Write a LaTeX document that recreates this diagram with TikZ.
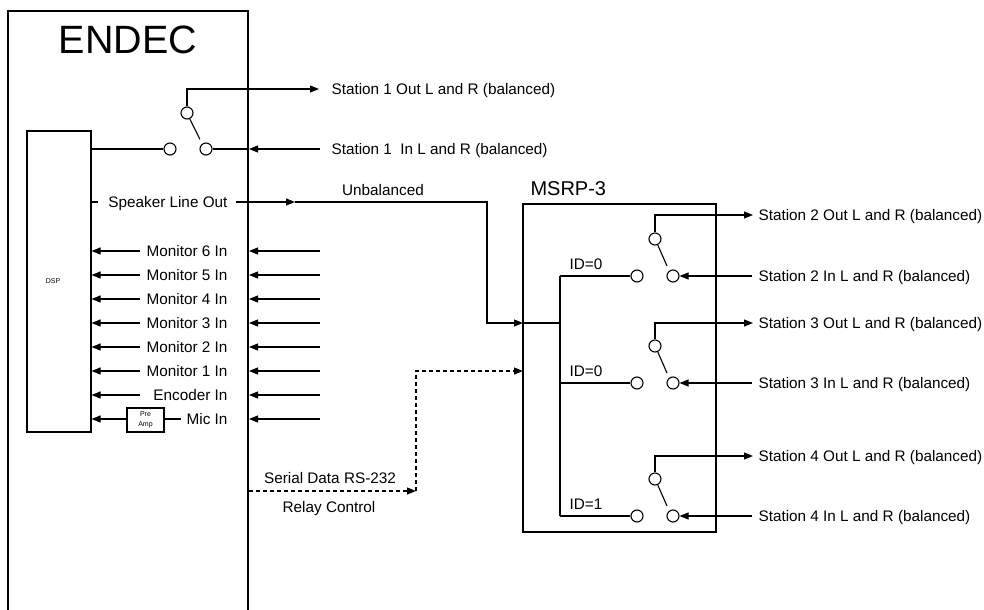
\documentclass[tikz,border=0pt]{standalone}
\usepackage{fontspec}
\setmainfont{Liberation Sans}
\usetikzlibrary{arrows.meta,calc}
\begin{document}
\begin{tikzpicture}[x=1bp,y=-1bp, line width=1.1bp,
  lbl/.style={font=\fontsize{15.3bp}{17bp}\selectfont, inner sep=0pt, text height=11bp, text depth=0pt},
  sw/.style={circle, draw, fill=white, minimum size=12bp, inner sep=0pt},
  arr/.style={-{Triangle[length=9bp,width=7bp]}},
  dsh/.style={dash pattern=on 4bp off 3bp},
  thickbox/.style={draw, line width=2.6bp, inner sep=0pt}]
\useasboundingbox (0,0) rectangle (984,610);

% ENDEC outline (open at bottom)
\draw[line width=2.2bp] (8,610) -- (8,11) -- (248,11) -- (248,610);
\node[font=\fontsize{39.5bp}{40bp}\selectfont, inner sep=0pt] (endec) at (128,40) {ENDEC};

% DSP
\node[draw, minimum width=64bp, minimum height=301bp, inner sep=0pt] (dsp) at (59,281.5) {};
\node[font=\fontsize{7bp}{8bp}\selectfont, inner sep=0pt] (dsplbl) at (53,281) {DSP};

% Station 1 switch
\node[sw] (s1L) at (170,149) {};
\node[sw] (s1R) at (206,149) {};
\node[sw] (s1T) at (187,113) {};
\draw (s1T.-65) -- ($(s1R)+(-6,-9.5)$);
\draw (dsp.east |- s1L) -- (s1L);
\coordinate (s1o) at (319,89);
\draw[arr] (s1T) |- (s1o);
\node[lbl, anchor=west] (s1ot) at (331,89) {Station 1 Out L and R (balanced)};
\coordinate (s1i) at (320,149);
\coordinate (e1) at (249,149);
\draw[arr] (s1i) -- (e1);
\draw (e1) -- (s1R);
\node[lbl, anchor=west] (s1it) at (331,149) {Station 1\ \ In L and R (balanced)};

% Speaker line out
\draw (dsp.east |- 0,202) -- (98,202);
\node[lbl, anchor=east] (spk) at (228,202) {Speaker Line Out};
\coordinate (spkA) at (236,202);
\coordinate (spkB) at (295,202);
\coordinate (spkC) at (487,323);
\coordinate (msin) at (523,323);
\draw[arr] (spkA) -- (spkB);
\draw[arr] (spkB) -| (spkC) -- (msin);
\node[lbl, anchor=center] (unbal) at (383,190) {Unbalanced};

% Monitor inputs
\foreach \t/\y/\n in {Monitor 6 In/251/m6, Monitor 5 In/275/m5, Monitor 4 In/299/m4, Monitor 3 In/323/m3, Monitor 2 In/347/m2, Monitor 1 In/371/m1, Encoder In/395/enc}{
  \node[lbl, anchor=east] (\n) at (228,\y) {\t};
  \coordinate (\n a) at (140,\y);
  \draw[arr] (\n a) -- (dsp.east |- \n a);
  \coordinate (\n r) at (320,\y);
  \coordinate (\n e) at (249,\y);
  \draw[arr] (\n r) -- (\n e);
}
% Mic in with preamp
\node[draw, minimum width=37bp, minimum height=24bp, inner sep=0pt, align=center, font=\fontsize{7bp}{10.5bp}\selectfont] (pre) at (145.5,420) {Pre\\Amp};
\node[lbl, anchor=east] (mic) at (228,419) {Mic In};
\coordinate (micl) at (181,419);
\draw (pre.east |- micl) -- (micl);
\draw[arr] (pre.west |- micl) -- (dsp.east |- micl);
\coordinate (micr) at (320,419);
\coordinate (mice) at (249,419);
\draw[arr] (micr) -- (mice);

% Serial data
\coordinate (sdA) at (249,491);
\coordinate (sdB) at (416,491);
\coordinate (sdC) at (523,371);
\draw[arr, dsh] (sdA) -- (sdB);
\draw[arr, dsh] (sdB) |- (sdC);
\node[lbl] (sdt) at (330,478) {Serial Data RS-232};
\node[lbl] (rct) at (329,507) {Relay Control};

% MSRP-3
\node[thickbox, minimum width=193bp, minimum height=328bp] (msrp) at (619.5,368) {};
\node[font=\fontsize{20bp}{21bp}\selectfont, inner sep=0pt, anchor=west, text height=14bp, text depth=0pt] (msrpt) at (530,189) {MSRP-3};
\coordinate (busT) at (560,276);
\coordinate (busM) at (560,323);
\coordinate (busB) at (560,516);
\draw (busT) -- (busB);
\draw (msin) -- (busM);

\foreach \n/\yl/\yo/\id in {2/276/215/0, 3/383/323/0, 4/516/456/1}{
  \node[sw] (s\n L) at (637,\yl) {};
  \node[sw] (s\n R) at (673,\yl) {};
  \node[sw] (s\n T) at (655,\yl-37) {};
  \draw (s\n T.-65) -- ($(s\n R)+(-6,-10)$);
  \draw (560,\yl) -- (s\n L);
  \node[lbl, anchor=west] (id\n) at (569,\yl-12) {ID=\id};
  \coordinate (s\n o) at (753,\yo);
  \draw[arr] (s\n T) |- (s\n o);
  \node[lbl, anchor=west] (s\n ot) at (758,\yo) {Station \n\ Out L and R (balanced)};
  \coordinate (s\n i) at (752,\yl);
  \draw[arr] (s\n i) -- (s\n R);
  \node[lbl, anchor=west] (s\n it) at (758,\yl) {Station \n\ In L and R (balanced)};
}
\end{tikzpicture}
\end{document}
